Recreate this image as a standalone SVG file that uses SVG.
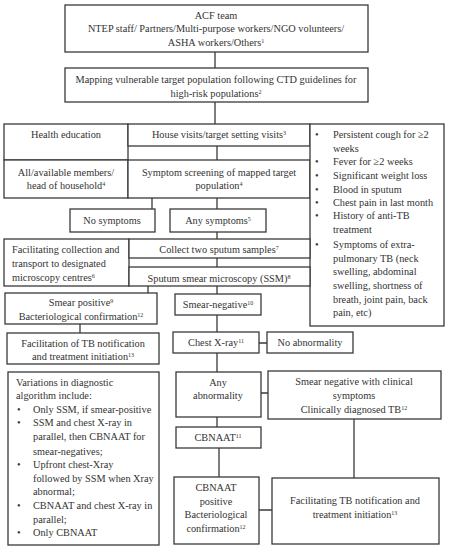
<svg xmlns="http://www.w3.org/2000/svg" width="449" height="550" viewBox="0 0 449 550">
<style>
.b{fill:#fff;stroke:#3a3a3a;stroke-width:1.3}
.l{stroke:#3a3a3a;stroke-width:1.3;fill:none}
text{font-family:"Liberation Serif","Times New Roman",serif;font-size:10.3px;fill:#333}
.m{text-anchor:middle}
.s{font-size:6px}
</style>
<rect width="449" height="550" fill="#fff"/>
<g id="connectors">
<path class="l" d="M215 52V68M215 102V124M217 146V160M152 198V209M217 198V209M217 232V239M217 258V267M148 286V293M217 286V294M80 324V333M217 315V332M259 343H267M217 353V372M261 393H268M217 417V427M354 419V478M219 448V477M259 510H272"/>
</g>
<g id="acf">
<rect class="b" x="65" y="5" width="303" height="47"/>
<text class="m" x="216" y="19">ACF team</text>
<text class="m" x="216" y="32">NTEP staff/ Partners/Multi-purpose workers/NGO volunteers/</text>
<text class="m" x="216" y="46">ASHA workers/Others<tspan class="s" dy="-3">1</tspan></text>
</g>
<g id="mapping">
<rect class="b" x="65" y="68" width="303" height="34"/>
<text class="m" x="216" y="83">Mapping vulnerable target population following CTD guidelines for</text>
<text class="m" x="216" y="97">high-risk populations<tspan class="s" dy="-3">2</tspan></text>
</g>
<g id="health">
<rect class="b" x="4" y="124" width="124" height="36"/>
<text class="m" x="66" y="138">Health education</text>
</g>
<g id="house">
<rect class="b" x="128" y="124" width="182" height="22"/>
<text class="m" x="219" y="138">House visits/target setting visits<tspan class="s" dy="-3">3</tspan></text>
</g>
<g id="members">
<rect class="b" x="4" y="160" width="124" height="38"/>
<text class="m" x="66" y="176">All/available members/</text>
<text class="m" x="66" y="189">head of household<tspan class="s" dy="-3">4</tspan></text>
</g>
<g id="screening">
<rect class="b" x="128" y="160" width="182" height="38"/>
<text class="m" x="219" y="176">Symptom screening of mapped target</text>
<text class="m" x="219" y="189">population<tspan class="s" dy="-3">4</tspan></text>
</g>
<g id="symptomlist">
<rect class="b" x="310" y="124" width="134" height="202"/>
<g>
<text x="315" y="138">•</text><text x="333" y="138">Persistent cough for ≥2</text>
<text x="333" y="152">weeks</text>
<text x="315" y="165">•</text><text x="333" y="165">Fever for ≥2 weeks</text>
<text x="315" y="179">•</text><text x="333" y="179">Significant weight loss</text>
<text x="315" y="193">•</text><text x="333" y="193">Blood in sputum</text>
<text x="315" y="206">•</text><text x="333" y="206">Chest pain in last month</text>
<text x="315" y="219">•</text><text x="333" y="219">History of anti-TB</text>
<text x="333" y="233">treatment</text>
<text x="315" y="248">•</text><text x="333" y="248">Symptoms of extra-</text>
<text x="333" y="262">pulmonary TB (neck</text>
<text x="333" y="275">swelling, abdominal</text>
<text x="333" y="289">swelling, shortness of</text>
<text x="333" y="303">breath, joint pain, back</text>
<text x="333" y="316">pain, etc)</text>
</g>
</g>
<g id="nosymptoms">
<rect class="b" x="70" y="209" width="85" height="23"/>
<text class="m" x="112" y="224">No symptoms</text>
</g>
<g id="anysymptoms">
<rect class="b" x="170" y="209" width="96" height="23"/>
<text class="m" x="218" y="224">Any symptoms<tspan class="s" dy="-3">5</tspan></text>
</g>
<g id="facilcollect">
<rect class="b" x="4" y="239" width="125" height="47"/>
<text x="12" y="253">Facilitating collection and</text>
<text x="12" y="267">transport to designated</text>
<text x="12" y="281">microscopy centres<tspan class="s" dy="-3">6</tspan></text>
</g>
<g id="collect">
<rect class="b" x="129" y="239" width="181" height="19"/>
<text class="m" x="219" y="253">Collect two sputum samples<tspan class="s" dy="-3">7</tspan></text>
</g>
<g id="ssm">
<rect class="b" x="129" y="267" width="181" height="19"/>
<text class="m" x="219" y="282">Sputum smear microscopy (SSM)<tspan class="s" dy="-3">8</tspan></text>
</g>
<g id="smearpos">
<rect class="b" x="5" y="293" width="152" height="31"/>
<text class="m" x="81" y="306">Smear positive<tspan class="s" dy="-3">9</tspan></text>
<text class="m" x="81" y="320">Bacteriological confirmation<tspan class="s" dy="-3">12</tspan></text>
</g>
<g id="smearneg">
<rect class="b" x="175" y="294" width="86" height="21"/>
<text class="m" x="218" y="308">Smear-negative<tspan class="s" dy="-3">10</tspan></text>
</g>
<g id="facilnotif1">
<rect class="b" x="7" y="333" width="152" height="31"/>
<text class="m" x="83" y="347">Facilitation of TB notification</text>
<text class="m" x="83" y="360">and treatment initiation<tspan class="s" dy="-3">13</tspan></text>
</g>
<g id="chestxray">
<rect class="b" x="173" y="332" width="86" height="21"/>
<text class="m" x="216" y="346">Chest X-ray<tspan class="s" dy="-3">11</tspan></text>
</g>
<g id="noabnormality">
<rect class="b" x="267" y="332" width="86" height="21"/>
<text class="m" x="310" y="346">No abnormality</text>
</g>
<g id="anyabnormality">
<rect class="b" x="176" y="372" width="85" height="45"/>
<text class="m" x="218" y="386">Any</text>
<text class="m" x="218" y="399">abnormality</text>
</g>
<g id="clinical">
<rect class="b" x="268" y="371" width="173" height="48"/>
<text class="m" x="354" y="385">Smear negative with clinical</text>
<text class="m" x="354" y="399">symptoms</text>
<text class="m" x="354" y="413">Clinically diagnosed TB<tspan class="s" dy="-3">12</tspan></text>
</g>
<g id="variations">
<rect class="b" x="8" y="372" width="151" height="173"/>
<text x="16" y="386">Variations in diagnostic</text>
<text x="16" y="399">algorithm include:</text>
<text x="17" y="413">•</text><text x="33" y="413">Only SSM, if smear-positive</text>
<text x="17" y="426">•</text><text x="33" y="426">SSM and chest X-ray in</text>
<text x="33" y="440">parallel, then CBNAAT for</text>
<text x="33" y="455">smear-negatives;</text>
<text x="17" y="468">•</text><text x="33" y="468">Upfront chest-Xray</text>
<text x="33" y="482">followed by SSM when Xray</text>
<text x="33" y="495">abnormal;</text>
<text x="17" y="509">•</text><text x="33" y="509">CBNAAT and chest X-ray in</text>
<text x="33" y="523">parallel;</text>
<text x="17" y="536">•</text><text x="33" y="536">Only CBNAAT</text>
</g>
<g id="cbnaat">
<rect class="b" x="176" y="427" width="85" height="21"/>
<text class="m" x="218" y="441">CBNAAT<tspan class="s" dy="-3">11</tspan></text>
</g>
<g id="cbnaatpos">
<rect class="b" x="174" y="477" width="85" height="67"/>
<text class="m" x="216" y="491">CBNAAT</text>
<text class="m" x="216" y="505">positive</text>
<text class="m" x="216" y="518">Bacteriological</text>
<text class="m" x="216" y="532">confirmation<tspan class="s" dy="-3">12</tspan></text>
</g>
<g id="facilnotif2">
<rect class="b" x="272" y="478" width="167" height="66"/>
<text class="m" x="355" y="504">Facilitating TB notification and</text>
<text class="m" x="355" y="518">treatment initiation<tspan class="s" dy="-3">13</tspan></text>
</g>
</svg>
